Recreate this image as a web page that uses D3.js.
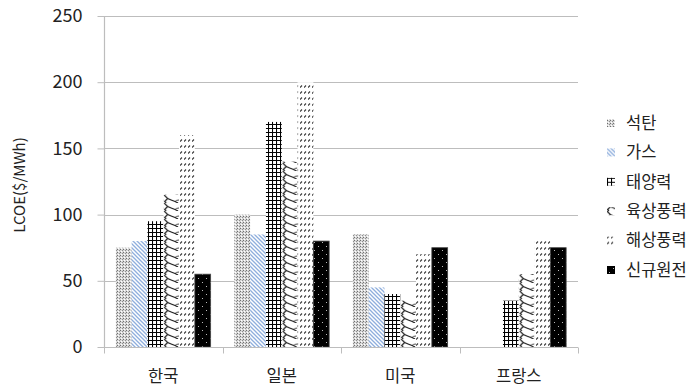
<!DOCTYPE html>
<html><head><meta charset="utf-8">
<script src="https://cdn.jsdelivr.net/npm/d3@7"></script>
<style>body{margin:0;background:#fff}svg{display:block}</style>
</head><body>
<svg id="c" width="696" height="388"></svg>
<script>
const categories = ["한국", "일본", "미국", "프랑스"];
const seriesNames = ["석탄", "가스", "태양력", "육상풍력", "해상풍력", "신규원전"];
const coal     = [75, 100, 85, null];
const gas      = [80, 85, 45, null];
const solar    = [95, 170, 40, 35];
const onshore  = [115, 140, 35, 55];
const offshore = [160, 200, 70, 80];
const nuclear  = [55, 80, 75, 75];
const yTicks = [0, 50, 100, 150, 200, 250];
const seriesValues = [coal, gas, solar, onshore, offshore, nuclear];

const svg = d3.select("#c");
const font = "'Noto Sans CJK KR', 'Noto Sans', sans-serif";
const defs = svg.append("defs");

function pat(id, w, h, draw, px, py) {
  const p = defs.append("pattern").attr("id", id).attr("patternUnits", "userSpaceOnUse")
    .attr("width", w).attr("height", h).attr("x", px || 0).attr("y", py || 0);
  draw(p);
}
pat("p0", 3, 3, p => {
  p.append("rect").attr("width", 3).attr("height", 3).attr("fill", "#d8d8d8");
  p.append("rect").attr("x", 0).attr("y", 0).attr("width", 1).attr("height", 1).attr("fill", "#707070");
  p.append("rect").attr("x", 2).attr("y", 1).attr("width", 1).attr("height", 1).attr("fill", "#909090");
  p.append("rect").attr("x", 1).attr("y", 2).attr("width", 1).attr("height", 1).attr("fill", "#fff");
});
pat("p1", 4, 4, p => {
  p.append("rect").attr("width", 4).attr("height", 4).attr("fill", "#fff");
  p.append("path").attr("d", "M-1,-1 L5,5 M-1,3 L1,5 M3,-1 L5,1").attr("stroke", "#8eaedd").attr("stroke-width", 1.3);
});
pat("p2", 4, 4, p => {
  p.append("rect").attr("width", 4).attr("height", 4).attr("fill", "#fff");
  p.append("path").attr("d", "M0.5,0 V4 M0,0.5 H4").attr("stroke", "#000").attr("stroke-width", 1.1);
});
function wave(p) {
  p.append("rect").attr("width", 16).attr("height", 8).attr("fill", "#fff");
  p.append("path").attr("d", "M1,0 L4.5,3.5 L1.5,6.5 L3,8 M4.5,3.5 Q9,5.5 12,6.5 L15,8")
    .attr("stroke", "#1a1a1a").attr("stroke-width", 1.2).attr("fill", "none");
  p.append("path").attr("d", "M12,6.5 Q13,5 16,5").attr("stroke", "#1a1a1a").attr("stroke-width", 0.8).attr("fill", "none");
}
pat("p3", 16, 8, wave, 607, 0);
pat("p4", 4, 6, p => {
  p.append("rect").attr("width", 4).attr("height", 6).attr("fill", "#fff");
  p.append("path").attr("d", "M0,3.5 L2,1.5").attr("stroke", "#333").attr("stroke-width", 1.1);
});
pat("p5", 8, 8, p => {
  p.append("rect").attr("width", 8).attr("height", 8).attr("fill", "#000");
  p.append("rect").attr("x", 2).attr("y", 2).attr("width", 1).attr("height", 1).attr("fill", "#bbb");
  p.append("rect").attr("x", 6).attr("y", 6).attr("width", 1).attr("height", 1).attr("fill", "#bbb");
});
const fills = seriesNames.map((d, i) => `url(#p${i})`);

const x0 = d3.scaleBand().domain(categories).range([104, 578]).paddingInner(0.2).paddingOuter(0.1);
const x1 = d3.scaleBand().domain(seriesNames).range([0, x0.bandwidth()]);
const y = d3.scaleLinear().domain([0, 250]).range([347, 16]);

// per-category wave pattern aligned with each bar
categories.forEach((c, ci) => pat("w" + ci, x1.bandwidth(), 8, p => {
  p.append("g").attr("transform", `scale(${x1.bandwidth() / 16},1)`).call(wave);
}, x0(c) + x1(seriesNames[3]), 347));

svg.append("g").selectAll("line").data(yTicks.filter(d => d > 0)).join("line")
  .attr("x1", 104).attr("x2", 578).attr("y1", d => Math.round(y(d)) + 0.5).attr("y2", d => Math.round(y(d)) + 0.5)
  .attr("stroke", "#bdbdbd").attr("stroke-width", 1.2);

const rows = [];
categories.forEach((c, ci) => seriesNames.forEach((s, si) => {
  const v = seriesValues[si][ci];
  if (v != null) rows.push({c, ci, s, si, v});
}));
svg.append("g").selectAll("rect").data(rows).join("rect")
  .attr("x", d => x0(d.c) + x1(d.s))
  .attr("y", d => y(d.v))
  .attr("width", x1.bandwidth())
  .attr("height", d => y(0) - y(d.v))
  .attr("fill", d => d.si === 3 ? `url(#w${d.ci})` : fills[d.si])
  .attr("stroke", d => d.si === 5 ? "#444" : "none")
  .attr("stroke-width", 0.8);

const yAxis = d3.axisLeft(y).tickValues(yTicks).tickSize(7).tickPadding(15);
const gy = svg.append("g").attr("transform", "translate(104.5,0)").call(yAxis);
gy.select(".domain").attr("stroke", "#bdbdbd").attr("stroke-width", 1.2).attr("d", "M0,16V347");
gy.selectAll(".tick line").attr("stroke", "#bdbdbd");
gy.selectAll("text").attr("font-family", font).attr("font-size", 18).attr("fill", "#222");

const xAxis = d3.axisBottom(x0).tickSize(0).tickPadding(0);
const gx = svg.append("g").attr("transform", "translate(0,347.5)").call(xAxis);
gx.select(".domain").attr("stroke", "#bdbdbd").attr("stroke-width", 1.2).attr("d", "M104,0H578");
gx.selectAll("text").attr("font-family", font).attr("font-size", 16.5).attr("fill", "#222")
  .attr("y", 28.5).attr("dy", "0.35em");
const bounds = categories.map(c => x0(c) + x0.bandwidth() + x0.step() * 0.1).concat([104]);
gx.append("g").selectAll("line").data(bounds).join("line")
  .attr("x1", d => Math.round(d) + 0.5).attr("x2", d => Math.round(d) + 0.5)
  .attr("y1", 0).attr("y2", 6).attr("stroke", "#bdbdbd");

svg.append("text").attr("transform", "translate(25,185) rotate(-90)")
  .attr("text-anchor", "middle").attr("font-family", font).attr("font-size", 15).attr("fill", "#222")
  .text("LCOE($/MWh)");

const lg = svg.append("g").selectAll("g").data(seriesNames).join("g")
  .attr("transform", (d, i) => `translate(607,${123 + i * 29.4})`);
lg.append("rect").attr("x", 0).attr("y", -4).attr("width", 8).attr("height", 8)
  .attr("fill", (d, i) => fills[i]);
lg.append("text").attr("x", 19).attr("y", 0).attr("dy", "0.35em")
  .attr("font-family", font).attr("font-size", 16.5).attr("fill", "#222").text(d => d);
</script>
</body></html>
